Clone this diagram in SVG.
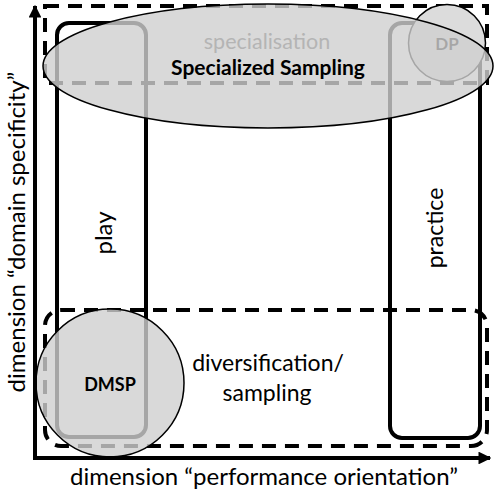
<svg xmlns="http://www.w3.org/2000/svg" width="497" height="494" viewBox="0 0 497 494">
<defs>
<style>
.dash{fill:none;stroke:#000;stroke-width:4;stroke-dasharray:14 9}
.box{fill:none;stroke:#000;stroke-width:4}
.shade{fill:#d0d0d0;fill-opacity:0.8;stroke:#000;stroke-width:1.5}
.t{font-family:Lato,"Open Sans","Liberation Sans",sans-serif;fill:#000}
.b{font-weight:bold}
.axis{stroke:#000;stroke-width:4;fill:none}
</style>
<marker id="ah" viewBox="0 0 10 10" refX="9" refY="5" markerWidth="3.2" markerHeight="3.2" orient="auto" markerUnits="strokeWidth">
<path d="M0,0 L10,5 L0,10 Z" fill="#000"/>
</marker>
</defs>
<rect width="497" height="494" fill="#fff"/>
<g id="specialisation-zone">
<rect class="dash" x="45" y="6" width="442" height="77"/>
</g>
<g id="diversification-zone">
<rect class="dash" x="45" y="310" width="442" height="136" rx="16"/>
<text class="t" x="268" y="371" font-size="23" text-anchor="middle">diversification/</text>
<text class="t" x="267" y="401" font-size="23" text-anchor="middle">sampling</text>
</g>
<g id="play">
<rect class="box" x="57" y="23" width="89" height="414" rx="12"/>
<text class="t" font-size="24" text-anchor="middle" transform="translate(112,233) rotate(-90)">play</text>
</g>
<g id="practice">
<rect class="box" x="390" y="23" width="90" height="415" rx="12"/>
<text class="t" font-size="23" text-anchor="middle" transform="translate(443,228) rotate(-90)">practice</text>
</g>
<g id="dp">
<circle cx="447" cy="43" r="38.5" fill="#dcdcdc" stroke="#000" stroke-width="1.5"/>
<text class="t b" x="447" y="50" font-size="17" text-anchor="middle">DP</text>
</g>
<g id="specialized-sampling">
<ellipse class="shade" cx="268" cy="66" rx="225" ry="62"/>
<text class="t" x="267" y="49" font-size="21.5" text-anchor="middle" style="fill:#b4b4b4">specialisation</text>
<text class="t b" x="268" y="75" font-size="21" text-anchor="middle">Specialized Sampling</text>
</g>
<g id="dmsp">
<circle class="shade" cx="110" cy="383" r="74"/>
<text class="t b" x="110" y="391" font-size="18" text-anchor="middle">DMSP</text>
</g>
<g id="connectors">
<line class="axis" x1="35" y1="460" x2="35" y2="6" marker-end="url(#ah)"/>
<line class="axis" x1="33" y1="458" x2="490" y2="458" marker-end="url(#ah)"/>
</g>
<g id="axis-labels">
<text class="t" x="264" y="485" font-size="24" text-anchor="middle">dimension “performance orientation”</text>
<text class="t" font-size="24" text-anchor="middle" transform="translate(25,232) rotate(-90)">dimension “domain specificity”</text>
</g>
</svg>
